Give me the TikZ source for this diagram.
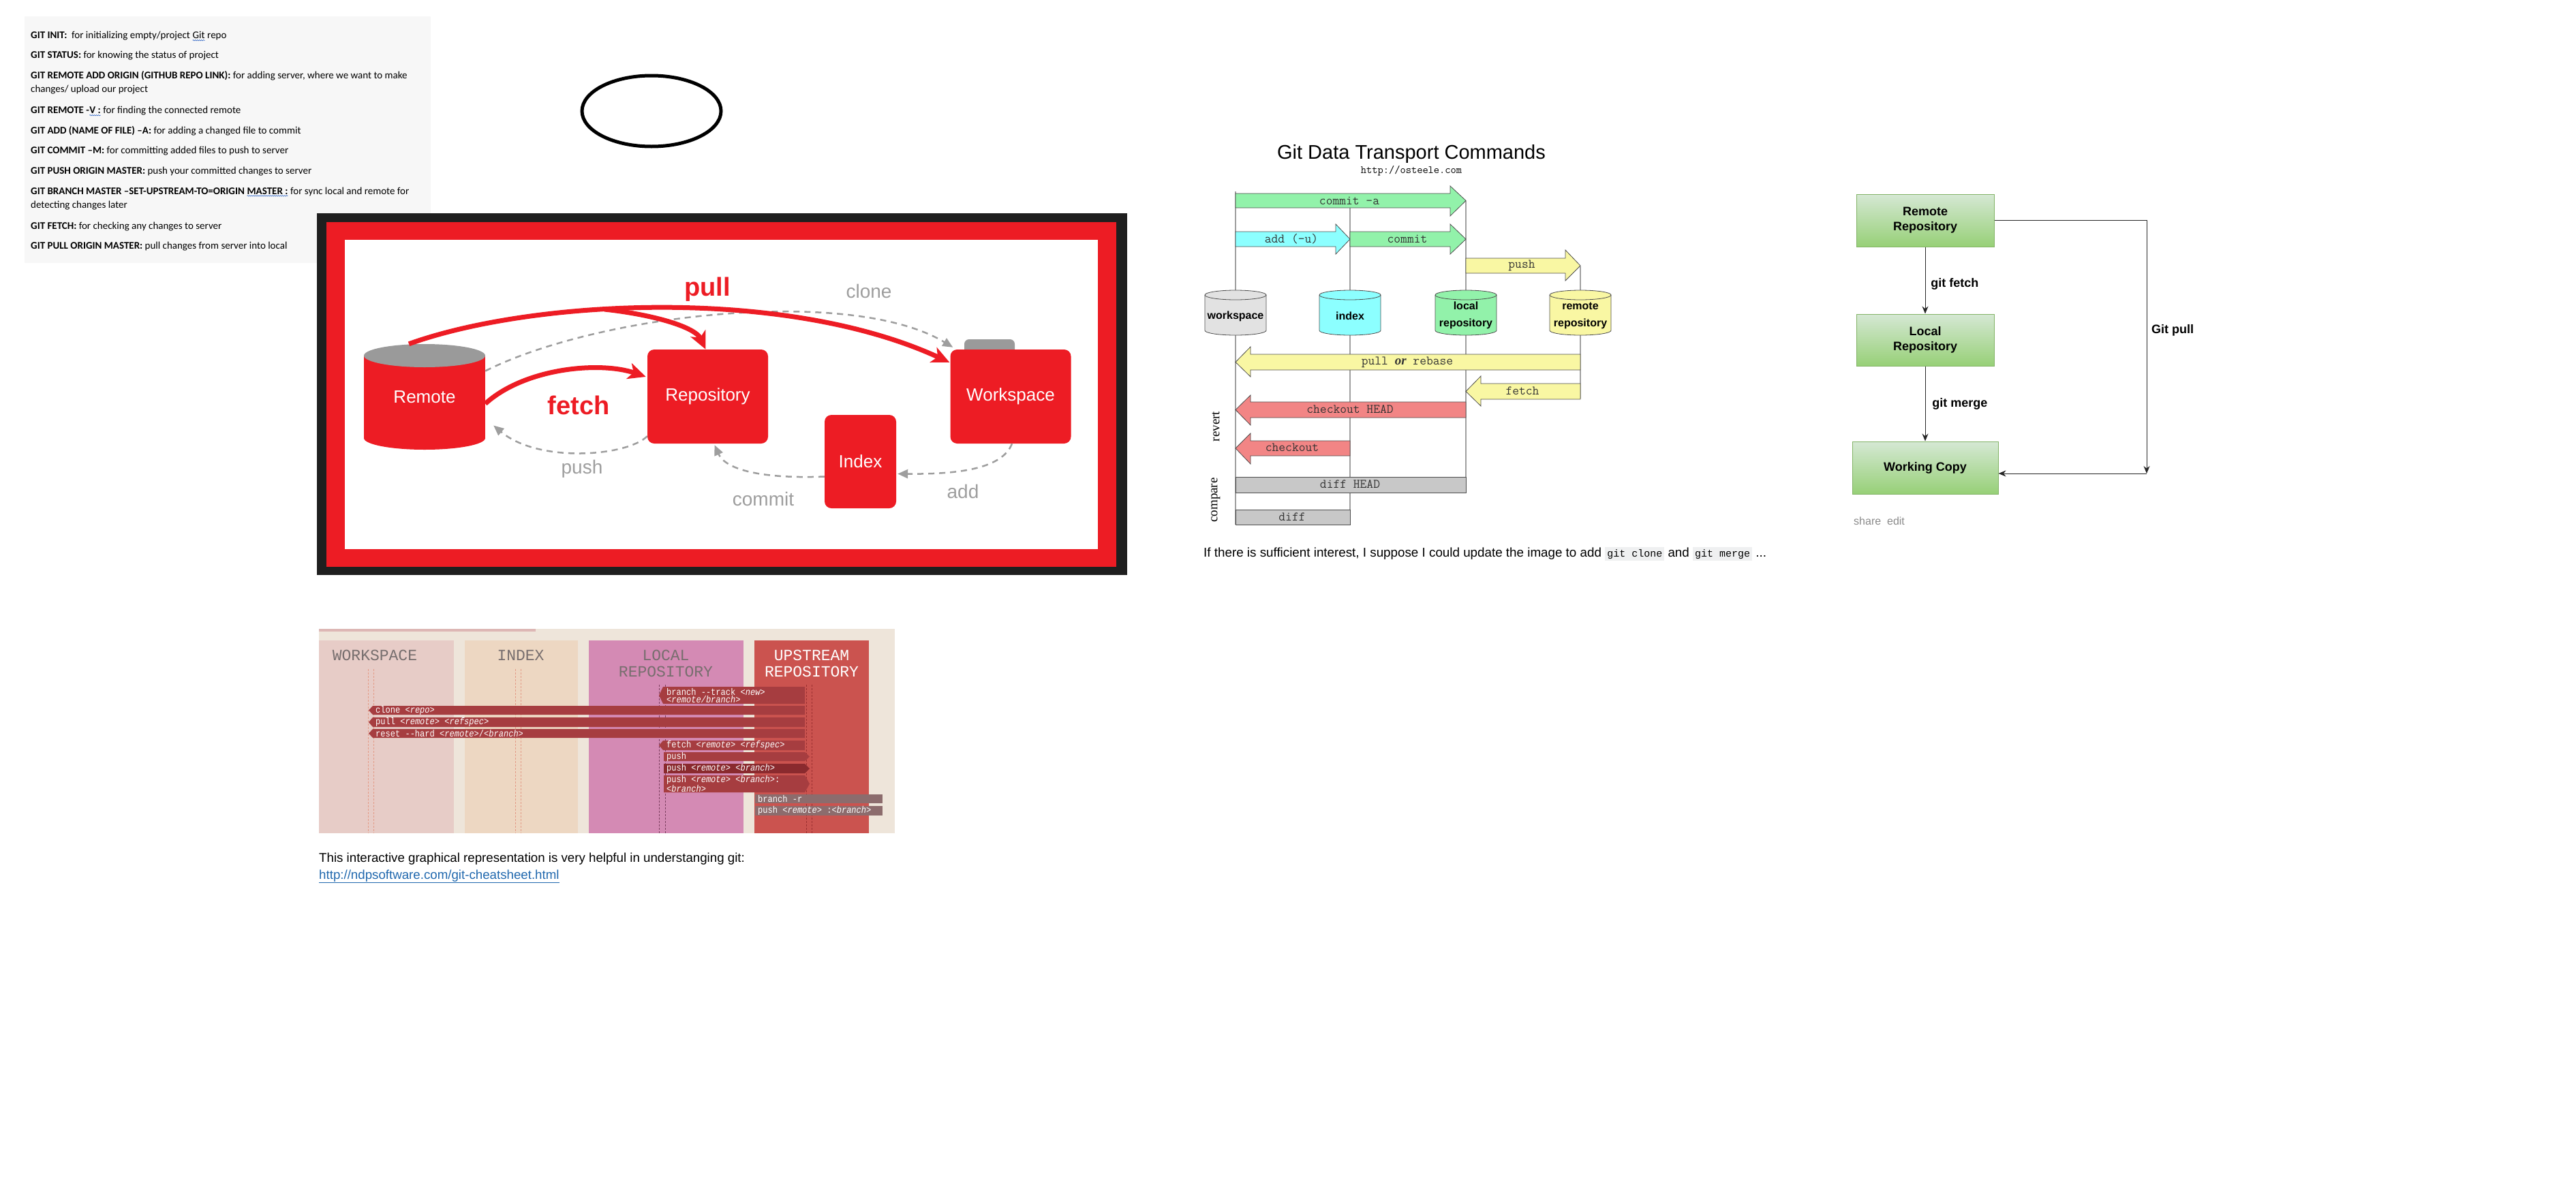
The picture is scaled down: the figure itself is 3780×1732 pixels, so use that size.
\documentclass[tikz,border=0pt]{standalone}
\usepackage{fontspec}
\setmainfont{Liberation Sans}
\newfontfamily\calfont{Carlito}
\newfontfamily\monofont{Liberation Mono}
\newfontfamily\cmdfont{Liberation Mono}[FakeStretch=0.86]
\newfontfamily\seriffont{Liberation Serif}
\usetikzlibrary{arrows.meta,positioning,calc,shapes.geometric,decorations.pathmorphing}
\definecolor{cred}{HTML}{ED1C24}
\definecolor{cframe}{HTML}{1F1F1F}
\definecolor{ccap}{HTML}{9A9A9A}
\definecolor{cgryD}{HTML}{9E9E9E}
\definecolor{cnote}{HTML}{F7F7F7}
\definecolor{cwave}{HTML}{2B63C4}
\definecolor{cshbg}{HTML}{EEE5DA}
\definecolor{cshtop}{HTML}{DDB7B5}
\definecolor{cws}{HTML}{E7CCC7}
\definecolor{cidx}{HTML}{EDD7C2}
\definecolor{cloc}{HTML}{D48AB4}
\definecolor{cup}{HTML}{CB534F}
\definecolor{cchead}{HTML}{776E6E}
\definecolor{cbar}{HTML}{A63D40}
\definecolor{cbarD}{HTML}{8A2A2E}
\definecolor{cgbar}{HTML}{8C6C6D}
\definecolor{cwsL}{HTML}{E39A86}
\definecolor{clocL}{HTML}{7B3F5F}
\definecolor{cupL}{HTML}{9A2F30}
\definecolor{clane}{HTML}{A0A0A0}
\definecolor{cgrn}{HTML}{92F2AA}
\definecolor{ccyan}{HTML}{8CFFFF}
\definecolor{cyel}{HTML}{F9F7A3}
\definecolor{cpink}{HTML}{F28585}
\definecolor{cgrey}{HTML}{C8C8C8}
\definecolor{cwsF}{HTML}{E2E2E2}
\definecolor{cfgT}{HTML}{D5E8D4}
\definecolor{cfgB}{HTML}{97D077}
\definecolor{cfgD}{HTML}{82B366}
\definecolor{clink}{HTML}{2068AE}
\definecolor{ccode}{HTML}{EFF0F1}
\definecolor{cshare}{HTML}{8A8A8A}
\newcommand\setfs[2]{\fontsize{#1}{#2}\selectfont}
\newcommand\wavy[1]{\tikz[baseline=(wv.base)]{\node[inner sep=0pt, outer sep=0pt] (wv) {#1};
  \draw[cwave, line width=0.6pt, decorate, decoration={snake, amplitude=0.7pt, segment length=3pt}]
    ([yshift=-2.5pt]wv.base west) -- ([yshift=-2.5pt]wv.base east);}}
\newcommand\codebox[1]{{\setlength\fboxsep{3pt}\colorbox{ccode}{\monofont\setfs{15}{17}#1}}}
\tikzset{
  cmdtxt/.style={anchor=base west, inner sep=0pt, font=\calfont\setfs{15}{18}},
  redbox/.style={fill=cred, rounded corners=10pt, text=white, font=\setfs{26}{30}, inner sep=0pt},
  redflow/.style={line width=7pt, draw=cred, -{Stealth[length=26pt,width=24pt,inset=7pt]}},
  grayflow/.style={line width=2.5pt, draw=cgryD, dash pattern=on 9pt off 7pt,
                   -{Triangle[length=15pt,width=13pt]}},
  redlab/.style={text=cred, font=\bfseries\setfs{38}{40}, inner sep=0pt},
  graylab/.style={text=cgryD, font=\setfs{28}{30}, inner sep=0pt},
  colhead/.style={font=\monofont\setfs{23}{26}, text=cchead, inner sep=0pt},
  cmdlab/.style={anchor=west, font=\cmdfont\setfs{14}{11}, text=white, inner sep=0pt, align=left},
  lanedash/.style={dash pattern=on 3pt off 2pt, line width=0.8pt},
  lane/.style={draw=clane, line width=2.5pt},
  blockarr/.style={draw=black!70, line width=0.8pt},
  cyl/.style={draw=black!70, line width=0.8pt},
  cyllab/.style={font=\bfseries\setfs{16}{25}, align=center, inner sep=0pt},
  tlab/.style={font=\ttfamily\setfs{19}{20}, text=black!80, inner sep=0pt},
  gbox/.style={draw=cfgD, line width=1pt, top color=cfgT, bottom color=cfgB,
               font=\bfseries\setfs{18}{22}, align=center, inner sep=0pt},
  garrow/.style={-{Stealth[length=11pt,width=9pt]}, line width=0.9pt, draw=black!85},
  glab/.style={font=\bfseries\setfs{18}{22}, inner sep=0pt},
}
\begin{document}
\begin{tikzpicture}[x=1pt, y=-1pt]
  \useasboundingbox (0,0) rectangle (3780,1732);
  \fill[white] (0,0) rectangle (3780,1732);

  % ---- command notes
  \fill[cnote] (36,24) rectangle (632,386);
  \node[cmdtxt] (n1) at (45,56.7) {\textbf{GIT INIT:}\ \ for initializing empty/project \wavy{Git} repo};
  \node[cmdtxt] (n2) at (45,85.7) {\textbf{GIT STATUS:} for knowing the status of project};
  \node[cmdtxt] (n3) at (45,115) {\textbf{GIT REMOTE ADD ORIGIN (GITHUB REPO LINK):} for adding server, where we want to make};
  \node[cmdtxt] (n3b) at (45,135) {changes/ upload our project};
  \node[cmdtxt] (n4) at (45,166.7) {\textbf{GIT REMOTE -\wavy{V :}} for finding the connected remote};
  \node[cmdtxt] (n5) at (45,196) {\textbf{GIT ADD (NAME OF FILE) –A:} for adding a changed file to commit};
  \node[cmdtxt] (n6) at (45,225.7) {\textbf{GIT COMMIT –M:} for committing added files to push to server};
  \node[cmdtxt] (n7) at (45,255) {\textbf{GIT PUSH ORIGIN MASTER:} push your committed changes to server};
  \node[cmdtxt] (n8) at (45,285) {\textbf{GIT BRANCH MASTER –SET-UPSTREAM-TO=ORIGIN \wavy{MASTER :}} for sync local and remote for};
  \node[cmdtxt] (n8b) at (45,305) {detecting changes later};
  \node[cmdtxt] (n9) at (45,336) {\textbf{GIT FETCH:} for checking any changes to server};
  \node[cmdtxt] (n10) at (45,365) {\textbf{GIT PULL ORIGIN MASTER:} pull changes from server into local};

  \node[draw, ellipse, line width=5pt, minimum width=204, minimum height=104, inner sep=0pt] (blank) at (956,163) {};

  % ---- red overview
  \fill[cframe] (465,313) rectangle (1654,844);
  \fill[cred] (479,326) rectangle (1638,832);
  \fill[white] (506,352) rectangle (1611,806);
  \fill[cred] (534,522) rectangle (712,643);
  \fill[cred] (623,643) ellipse [x radius=89, y radius=17];
  \fill[ccap] (623,522) ellipse [x radius=89, y radius=17];
  \node[text=white, font=\setfs{26}{30}, minimum width=178, minimum height=155, inner sep=0pt] (remote) at (623,582.5) {Remote};
  \fill[ccap, rounded corners=7] (1415,498) rectangle (1489,524);
  \node[redbox, minimum width=177, minimum height=138] (repo) at (1038.5,582) {Repository};
  \node[redbox, minimum width=177, minimum height=138] (ws) at (1483,582) {Workspace};
  \node[redbox, minimum width=105, minimum height=137] (index) at (1262.5,677.5) {Index};

  \draw[grayflow] ($(remote.east)+(0,-38)$) .. controls (880,460) and (1250,420) .. ($(ws.north west)+(4,-3)$);
  \draw[grayflow] ($(repo.south west)+(0,-11)$) .. controls (920,670) and (790,680) .. ($(remote.east)+(12,42)$);
  \draw[grayflow] ($(index.west)+(0,22)$) .. controls (1120,703) and (1065,690) .. ($(repo.south)+(10,2)$);
  \draw[grayflow] ($(ws.south)+(2,0)$) .. controls (1470,690) and (1400,696) .. ($(index.east)+(2,18)$);

  \coordinate (pullfork) at (887,454);
  \draw[redflow] ($(remote.north)+(-23,0)$) .. controls (780,440) and (1150,420) .. ($(ws.north west)+(-1,19)$);
  \draw[redflow] (pullfork) .. controls (960,462) and (1020,480) .. ($(repo.north)+(-3,0)$);
  \draw[redflow] ($(remote.east)+(0,10)$) .. controls (770,540) and (880,530) .. ($(repo.west)+(-2,-29)$);

  \node[redlab] (lpull) at (1038,425) {pull};
  \node[redlab] (lfetch) at (849,595) {fetch};
  \node[graylab] (lclone) at (1275,427) {clone};
  \node[graylab] (lpush) at (854,688) {push};
  \node[graylab] (lcommit) at (1120,732) {commit};
  \node[graylab] (ladd) at (1413,721) {add};

  % ---- cheatsheet columns
  \fill[cshbg] (468,923) rectangle (1313,1223);
  \fill[cshtop] (468,923) rectangle (786,927);
  \fill[cws] (468,940) rectangle (666,1223);
  \fill[cidx] (682,940) rectangle (848,1223);
  \fill[cloc] (864,940) rectangle (1091,1223);
  \fill[cup] (1107,940) rectangle (1275,1223);
  \node[colhead] (hws) at (550,962) {WORKSPACE};
  \node[colhead] (hidx) at (764,962) {INDEX};
  \node[colhead] (hloc) at (977,962) {LOCAL};
  \node[colhead] (hloc2) at (977,986) {REPOSITORY};
  \node[colhead, text=white] (hup) at (1191,962) {UPSTREAM};
  \node[colhead, text=white] (hup2) at (1191,986) {REPOSITORY};
  \draw[lanedash, draw=cwsL] (540,982) -- (540,1223) (548,982) -- (548,1223);
  \draw[lanedash, draw=cwsL] (756,982) -- (756,1223) (764,982) -- (764,1223);
  \draw[lanedash, draw=clocL] (967,1005) -- (967,1223) (976,1005) -- (976,1223);
  \draw[lanedash, draw=cupL] (1183,1005) -- (1183,1223) (1191,1005) -- (1191,1223);

  \fill[cbar] (967,1020.5) -- (973,1008) -- (1181,1008) -- (1181,1033) -- (973,1033) -- cycle;
  \fill[cbar] (541,1042.5) -- (547,1036) -- (1181,1036) -- (1181,1049) -- (547,1049) -- cycle;
  \fill[cbar] (541,1060) -- (547,1053) -- (1181,1053) -- (1181,1067) -- (547,1067) -- cycle;
  \fill[cbar] (541,1076.5) -- (547,1070) -- (1181,1070) -- (1181,1083) -- (547,1083) -- cycle;
  \fill[cbar] (967,1094) -- (973,1087) -- (1181,1087) -- (1181,1101) -- (973,1101) -- cycle;
  \fill[cbar] (974,1104) -- (1181,1104) -- (1188,1110.5) -- (1181,1117) -- (974,1117) -- cycle;
  \fill[cbarD] (974,1121) -- (1181,1121) -- (1188,1128) -- (1181,1135) -- (974,1135) -- cycle;
  \fill[cbar] (974,1138) -- (1181,1138) -- (1188,1150.5) -- (1181,1163) -- (974,1163) -- cycle;
  \fill[cgbar] (1108,1166) rectangle (1295,1179);
  \fill[cgbar] (1108,1183) rectangle (1295,1197);
  \node[cmdlab] (bt) at (978,1020.5) {branch -\kern0pt-track \textit{<new>}\\\textit{<remote/branch>}};
  \node[cmdlab] (bclone) at (551,1042.5) {clone \textit{<repo>}};
  \node[cmdlab] (bpull) at (551,1060) {pull \textit{<remote>} \textit{<refspec>}};
  \node[cmdlab] (breset) at (551,1076.5) {reset -\kern0pt-hard \textit{<remote>}/\textit{<branch>}};
  \node[cmdlab] (bfetch) at (978,1094) {fetch \textit{<remote>} \textit{<refspec>}};
  \node[cmdlab] (bpush) at (978,1110.5) {push};
  \node[cmdlab] (bpush2) at (978,1128) {push \textit{<remote>} \textit{<branch>}};
  \node[cmdlab] (bpush3) at (978,1150.5) {push \textit{<remote>} \textit{<branch>}:\\\textit{<branch>}};
  \node[cmdlab] (bbr) at (1112,1172.5) {branch -r};
  \node[cmdlab] (bdel) at (1112,1190) {push \textit{<remote>} :\textit{<branch>}};

  \node[anchor=base west, inner sep=0pt, font=\setfs{18.7}{22}] (tinfo) at (468,1265)
    {This interactive graphical representation is very helpful in understanging git:};
  \node[anchor=base west, inner sep=0pt, font=\setfs{18.7}{22}, text=clink] (tlink) at (468,1290)
    {\underline{http://ndpsoftware.com/git-cheatsheet.html}};

  % ---- data transport
  \node[font=\setfs{29}{32}] (ttitle) at (2071,226) {Git Data Transport Commands};
  \node[font=\ttfamily\setfs{16}{18}, inner sep=0pt] (tsite) at (2071,251) {http://osteele.com};
  \draw[lane] (1813,281) -- (1813,770);
  \draw[lane] (1981,305) -- (1981,770);
  \draw[lane] (2151,295) -- (2151,723);
  \draw[lane] (2319,391) -- (2319,585);

  \draw[cyl, fill=cwsF] (1768,433) -- (1768,485) arc[start angle=180, end angle=0, x radius=45, y radius=7] -- (1858,433) arc[start angle=0, end angle=-180, x radius=45, y radius=7] -- cycle;
  \draw[cyl] (1768,433) arc[start angle=180, end angle=0, x radius=45, y radius=7];
  \draw[cyl, fill=ccyan] (1936,433) -- (1936,485) arc[start angle=180, end angle=0, x radius=45, y radius=7] -- (2026,433) arc[start angle=0, end angle=-180, x radius=45, y radius=7] -- cycle;
  \draw[cyl] (1936,433) arc[start angle=180, end angle=0, x radius=45, y radius=7];
  \draw[cyl, fill=cgrn] (2106,433) -- (2106,485) arc[start angle=180, end angle=0, x radius=45, y radius=7] -- (2196,433) arc[start angle=0, end angle=-180, x radius=45, y radius=7] -- cycle;
  \draw[cyl] (2106,433) arc[start angle=180, end angle=0, x radius=45, y radius=7];
  \draw[cyl, fill=cyel] (2274,433) -- (2274,485) arc[start angle=180, end angle=0, x radius=45, y radius=7] -- (2364,433) arc[start angle=0, end angle=-180, x radius=45, y radius=7] -- cycle;
  \draw[cyl] (2274,433) arc[start angle=180, end angle=0, x radius=45, y radius=7];
  \node[cyllab] (cws) at (1813,464) {workspace};
  \node[cyllab] (cidx) at (1981,464) {index};
  \node[cyllab] (cloc) at (2151,463) {local\\repository};
  \node[cyllab] (crem) at (2319,463) {remote\\repository};

  \draw[blockarr, fill=cgrn] (1813,284) -| (2128,273) -- (2151,294.5) -- (2128,317) |- (1813,305) -- cycle;
  \draw[blockarr, fill=ccyan] (1813,340) -| (1960,329) -- (1981,351) -- (1960,373) |- (1813,362) -- cycle;
  \draw[blockarr, fill=cgrn] (1981,340) -| (2128,329) -- (2151,351) -- (2128,373) |- (1981,362) -- cycle;
  \draw[blockarr, fill=cyel] (2151,379) -| (2297,367) -- (2319,390) -- (2297,412) |- (2151,401) -- cycle;
  \draw[blockarr, fill=cyel] (2319,520) -| (1835,509) -- (1813,531.5) -- (1835,553) |- (2319,543) -- cycle;
  \draw[blockarr, fill=cyel] (2319,563) -| (2173,552) -- (2151,574.5) -- (2173,596) |- (2319,586) -- cycle;
  \draw[blockarr, fill=cpink] (2151,590) -| (1835,580) -- (1813,601.5) -- (1835,624) |- (2151,613) -- cycle;
  \draw[blockarr, fill=cpink] (1981,647) -| (1835,636) -- (1813,658) -- (1835,681) |- (1981,669) -- cycle;
  \draw[blockarr, fill=cgrey] (1813,700) rectangle (2151,723);
  \draw[blockarr, fill=cgrey] (1813,748) rectangle (1981,770);
  \node[tlab] (tca) at (1980,295) {commit -a};
  \node[tlab] (tadd) at (1895,351) {add (-u)};
  \node[tlab] (tcom) at (2065,351) {commit};
  \node[tlab] (tpush) at (2233,390) {push};
  \node[tlab] (tpull) at (2065,532) {pull {\seriffont\bfseries\itshape or} rebase};
  \node[tlab] (tfetch) at (2234,574) {fetch};
  \node[tlab] (tcoh) at (1981,601) {checkout HEAD};
  \node[tlab] (tco) at (1896,657) {checkout};
  \node[tlab] (tdh) at (1981,711) {diff HEAD};
  \node[tlab] (tdiff) at (1896,759) {diff};
  \node[rotate=90, font=\seriffont\setfs{19}{20}, inner sep=0pt] (trevert) at (1784,626) {revert};
  \node[rotate=90, font=\seriffont\setfs{19}{20}, inner sep=0pt] (tcompare) at (1784,734) {compare};
  \node[anchor=base west, inner sep=0pt, font=\setfs{18.8}{22}] (tcap) at (1766,817)
    {If there is sufficient interest, I suppose I could update the image to add \codebox{git clone} and \codebox{git merge} ...};

  % ---- fetch / merge / pull
  \node[gbox, minimum width=202, minimum height=77] (frem) at (2825,323.5) {Remote\\Repository};
  \node[gbox, minimum width=202, minimum height=76] (floc) at (2825,499) {Local\\Repository};
  \node[gbox, minimum width=214, minimum height=77] (fwork) at (2825,686.5) {Working Copy};
  \coordinate (fturn) at (3150,695);
  \draw[garrow] (frem) -- node[glab, right=8pt, pos=0.55] (lgf) {git fetch} (floc);
  \draw[garrow] (floc) -- node[glab, right=10pt] (lgm) {git merge} (fwork);
  \draw[garrow] (frem.east) -| (fturn);
  \draw[garrow] (fturn) -- ($(fwork.east)+(0,8.5)$);
  \node[glab, anchor=west] (lgp) at (3157,485) {Git pull};
  \node[anchor=west, inner sep=0pt, text=cshare, font=\setfs{16}{18}] (lshare) at (2720,765) {share\ \ edit};
\end{tikzpicture}
\end{document}
